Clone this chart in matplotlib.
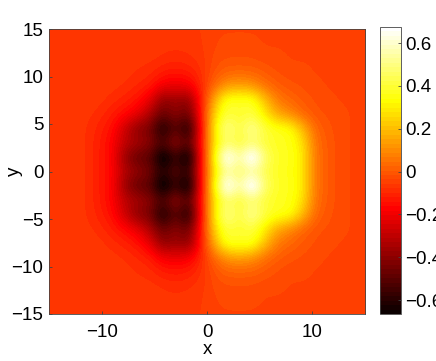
import numpy as np
from matplotlib import pyplot as plt

plt.rcParams['font.family'] = ['Liberation Sans', 'DejaVu Sans']
plt.rcParams['font.size'] = 13.5

X_TICKS = [-10, 0, 10]
Y_TICKS = [-15, -10, -5, 0, 5, 10, 15]
C_TICKS = [-0.6, -0.4, -0.2, 0, 0.2, 0.4, 0.6]

# upper half of the map, rows are y = 0, 1.5, 3 ... 15
# columns run from x = -15 to x = 15 every 1.2
row_00 = [-.06, -.06, -.06, -.08, -.12, -.17, -.32, -.38, -.44, -.60, -.46, -.60, -.15, .26, .52, .43, .50, .43, .37, .36, .29, .06, .00, -.03, -.04, -.04]
row_15 = [-.06, -.06, -.06, -.08, -.12, -.17, -.38, -.50, -.50, -.76, -.56, -.76, -.15, .30, .78, .52, .80, .48, .38, .37, .30, .06, .00, -.03, -.04, -.04]
row_30 = [-.06, -.06, -.06, -.08, -.12, -.17, -.30, -.34, -.40, -.52, -.34, -.52, -.14, .26, .46, .38, .46, .40, .37, .36, .28, .05, .00, -.03, -.04, -.04]
row_45 = [-.06, -.06, -.06, -.08, -.11, -.15, -.28, -.42, -.44, -.68, -.48, -.68, -.15, .28, .56, .40, .56, .42, .37, .36, .20, .03, -.01, -.03, -.04, -.04]
row_60 = [-.06, -.06, -.06, -.07, -.09, -.12, -.16, -.22, -.34, -.48, -.38, -.48, -.13, .24, .42, .37, .42, .30, .16, .10, .03, -.01, -.02, -.03, -.04, -.04]
row_75 = [-.06, -.06, -.06, -.06, -.07, -.09, -.11, -.14, -.22, -.42, -.36, -.42, -.12, .16, .39, .38, .39, .22, .07, .03, .00, -.02, -.03, -.04, -.04, -.04]
row_90 = [-.06, -.06, -.06, -.06, -.06, -.07, -.08, -.10, -.12, -.20, -.21, -.20, -.10, .03, .12, .15, .12, .05, .01, -.01, -.02, -.03, -.04, -.04, -.04, -.04]
row_105 = [-.06, -.06, -.06, -.06, -.06, -.06, -.07, -.08, -.09, -.12, -.13, -.12, -.08, -.02, .02, .02, .02, .00, -.02, -.03, -.03, -.04, -.04, -.04, -.04, -.04]
row_120 = [-.06, -.06, -.06, -.06, -.06, -.06, -.06, -.07, -.07, -.08, -.09, -.08, -.07, -.03, -.02, -.02, -.02, -.03, -.03, -.04, -.04, -.04, -.04, -.04, -.04, -.04]
row_135 = [-.06, -.06, -.06, -.06, -.06, -.06, -.06, -.06, -.06, -.07, -.07, -.07, -.06, -.04, -.03, -.03, -.03, -.04, -.04, -.04, -.04, -.04, -.04, -.04, -.04, -.04]
row_150 = [-.06, -.06, -.06, -.06, -.06, -.06, -.06, -.06, -.06, -.06, -.06, -.06, -.06, -.04, -.04, -.04, -.04, -.04, -.04, -.04, -.04, -.04, -.04, -.04, -.04, -.04]

upper = np.array([row_00, row_15, row_30, row_45, row_60, row_75, row_90,
                  row_105, row_120, row_135, row_150])
field = np.vstack([upper[:0:-1], upper])

fig = plt.figure(figsize=(4.36, 3.61), dpi=100)
W, H = 436.0, 361.0
ax = fig.add_axes([49 / W, 1 - 314 / H, 316 / W, 285 / H])
cax = fig.add_axes([380 / W, 1 - 314 / H, 21 / W, 287 / H])

cmap = plt.get_cmap('hot').resampled(64)
im = ax.imshow(field, origin='lower', extent=[-15.6, 15.6, -15.75, 15.75],
               cmap=cmap, vmin=-0.665, vmax=0.675, aspect='auto',
               interpolation='bicubic')
ax.set_xlim(-15, 15)
ax.set_ylim(-15, 15)
ax.set_xticks(X_TICKS)
ax.set_yticks(Y_TICKS)
ax.tick_params(direction='in', length=2.5, width=0.6, color='#444444')
ax.tick_params(axis='x', pad=7)
ax.tick_params(axis='y', pad=4)
ax.set_xlabel('x', labelpad=0)
ax.set_ylabel('y', labelpad=-8)
for s in ax.spines.values():
    s.set_linewidth(0.6)
    s.set_color('#444444')

cb = fig.colorbar(im, cax=cax)
cb.set_ticks(C_TICKS)
cb.set_ticklabels(['\u22120.6', '\u22120.4', '\u22120.2', '0', '0.2', '0.4', '0.6'])
cb.ax.tick_params(direction='in', length=2.5, width=0.6, color='#444444', pad=3)
cb.outline.set_linewidth(0.6)
cb.outline.set_edgecolor('#444444')

plt.savefig('out.png', dpi=100)
